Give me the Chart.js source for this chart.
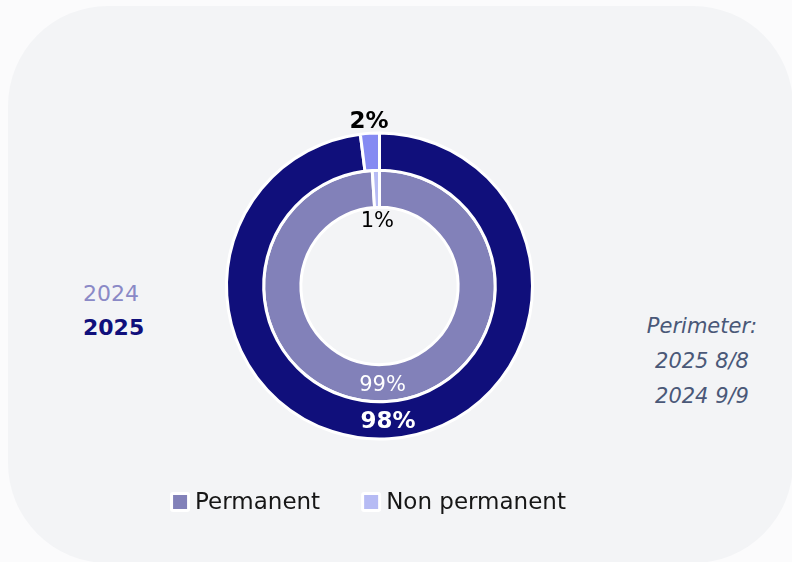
<!DOCTYPE html>
<html>
<head>
<meta charset="utf-8">
<script src="https://cdn.jsdelivr.net/npm/chart.js@4.4.1/dist/chart.umd.min.js"></script>
<style>
  html, body { margin: 0; padding: 0; background: #fbfbfc; }
  body { width: 792px; height: 562px; position: relative; overflow: hidden; font-family: "DejaVu Sans", sans-serif; }
  .card { position: absolute; left: 8px; top: 6px; width: 785px; height: 557px; border-radius: 100px; background: #f3f4f6; }
  .chart-box { position: absolute; left: 0; top: 0; width: 792px; height: 562px; }
  .years { position: absolute; left: 83px; top: 277px; }
  .years div { line-height: 34px; white-space: nowrap; }
  .y2024 { color: #8a89c6; font-size: 22px; font-weight: 400; }
  .y2025 { color: #100f7b; font-size: 22px; font-weight: 700; }
  .perimeter { position: absolute; left: 602px; width: 200px; top: 309px; text-align: center; color: #4a5878; font-style: italic; font-size: 21px; }
  .perimeter div { line-height: 35px; white-space: nowrap; }
</style>
</head>
<body>
<div class="card"></div>
<div class="years">
  <div class="y2024">2024</div>
  <div class="y2025">2025</div>
</div>
<div class="perimeter">
  <div>Perimeter:</div>
  <div>2025 8/8</div>
  <div>2024 9/9</div>
</div>
<div class="chart-box"><canvas id="chart" width="792" height="562"></canvas></div>
<script>
// Workforce split by contract type
const categories = ['Permanent', 'Non permanent'];
const values2025 = [98, 2];   // outer ring
const values2024 = [99, 1];   // inner ring
const colors2025 = ['#100f7b', '#858af2'];
const colors2024 = ['#8281b9', '#b6bbf4'];

const FONT = '"DejaVu Sans", sans-serif';

// Percentage labels: large slices inside the ring, small slices just outside it
const sliceLabels = {
  id: 'sliceLabels',
  afterDatasetsDraw(chart) {
    const ctx = chart.ctx;
    chart.data.datasets.forEach((ds, di) => {
      const meta = chart.getDatasetMeta(di);
      const outerRing = di === 0;
      meta.data.forEach((arc, i) => {
        const p = arc.getProps(['x', 'y', 'startAngle', 'endAngle', 'innerRadius', 'outerRadius'], true);
        const v = ds.data[i];
        const mid = (p.startAngle + p.endAngle) / 2;
        let r, color;
        if (v >= 50) {
          r = (p.innerRadius + p.outerRadius) / 2;
          color = '#ffffff';
        } else if (outerRing) {
          r = p.outerRadius + 13;
          color = '#000000';
        } else {
          r = p.innerRadius - 12;
          color = '#000000';
        }
        ctx.save();
        ctx.font = (outerRing ? '700 23px ' : '400 21px ') + FONT;
        ctx.fillStyle = color;
        ctx.textAlign = 'center';
        ctx.textBaseline = 'middle';
        ctx.fillText(v + '%', p.x + Math.cos(mid) * r, p.y + Math.sin(mid) * r + 2);
        ctx.restore();
      });
    });
  }
};

// Legend row under the rings, using the 2024 palette
const legendRow = {
  id: 'legendRow',
  afterDraw(chart) {
    const ctx = chart.ctx;
    const cy = 502, box = 20, inner = 14, gap = 5, spacing = 41, centerX = 368;
    ctx.save();
    ctx.font = '400 23px ' + FONT;
    const widths = chart.data.labels.map(l => ctx.measureText(l).width);
    const total = widths.reduce((a, w) => a + box + gap + w, 0) + spacing * (widths.length - 1);
    let x = centerX - total / 2;
    chart.data.labels.forEach((label, i) => {
      ctx.fillStyle = '#ffffff';
      ctx.beginPath();
      ctx.roundRect(x, cy - box / 2, box, box, 3);
      ctx.fill();
      ctx.fillStyle = chart.data.datasets[1].backgroundColor[i];
      ctx.fillRect(x + (box - inner) / 2, cy - inner / 2, inner, inner);
      ctx.fillStyle = '#161616';
      ctx.textAlign = 'left';
      ctx.textBaseline = 'middle';
      ctx.fillText(label, x + box + gap, cy + 1);
      x += box + gap + widths[i] + spacing;
    });
    ctx.restore();
  }
};

new Chart(document.getElementById('chart'), {
  type: 'doughnut',
  data: {
    labels: categories,
    datasets: [
      { label: '2025', data: values2025, backgroundColor: colors2025, borderColor: '#ffffff', borderWidth: 3 },
      { label: '2024', data: values2024, backgroundColor: colors2024, borderColor: '#ffffff', borderWidth: 3 }
    ]
  },
  options: {
    responsive: false,
    animation: false,
    events: [],
    radius: 153,
    cutout: '51.4%',
    layout: { padding: { left: 0, right: 33, top: 10, bottom: 0 } },
    plugins: {
      legend: { display: false },
      tooltip: { enabled: false }
    }
  },
  plugins: [sliceLabels, legendRow]
});
</script>
</body>
</html>
